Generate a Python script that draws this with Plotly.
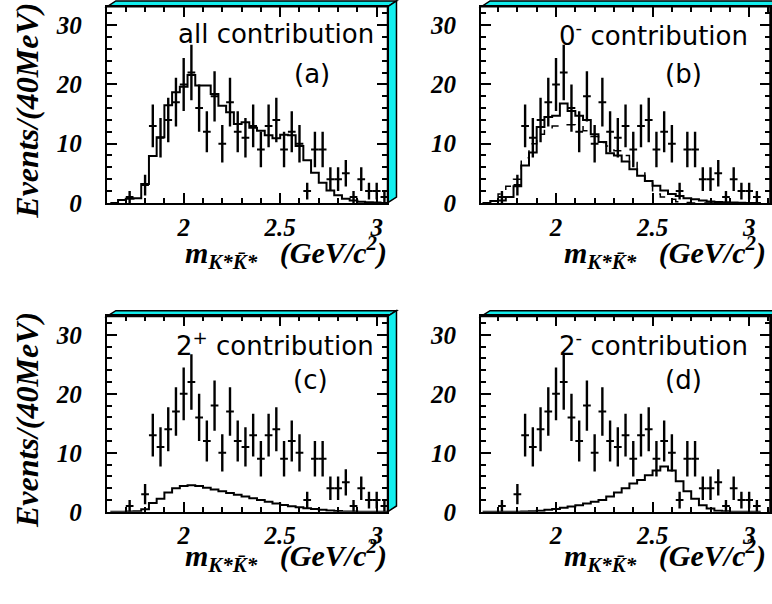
import numpy as np
import plotly.graph_objects as go

W, H = 772, 604

# ---------------- data ----------------
# data points (bin centres in GeV/c^2, 40 MeV bins) and event counts
centers = [1.68, 1.72, 1.76, 1.80, 1.84, 1.88, 1.92, 1.96, 2.00, 2.04, 2.08, 2.12,
           2.16, 2.20, 2.24, 2.28, 2.32, 2.36, 2.40, 2.44, 2.48, 2.52, 2.56, 2.60,
           2.64, 2.68, 2.72, 2.76, 2.80, 2.84, 2.88, 2.92, 2.96, 3.00, 3.04]
counts = [0, 1, 0, 3, 13, 11, 14, 17, 20, 22, 16, 12,
          18, 10, 17, 12, 11, 13, 9, 13, 14, 9, 12, 10,
          2, 9, 9, 4, 4, 5, 1, 4, 2, 2, 1]

# fit histograms (same bin centres, starting one bin earlier)
hist_centers = [1.64] + centers
all_contrib = [0, 0.5, 0.7, 0.8, 3.2, 7.9, 11.1, 16.5, 18.7, 19.6, 21.6, 19.8, 19.8,
               18.4, 16.4, 15.3, 13.3, 13.6, 12.7, 12.2, 11.4, 10.9, 11.5, 11.4, 9.6,
               7.2, 5.1, 3.4, 2.1, 1.3, 0.7, 0.4, 0.2, 0.1, 0.05, 0.0]
zero_minus = [0, 0.3, 0.4, 1.0, 2.8, 6.3, 8.5, 12.8, 14.5, 14.7, 16.8, 15.5, 14.7,
              14.0, 11.6, 10.3, 8.4, 8.0, 7.0, 5.7, 4.6, 3.7, 2.9, 2.1, 1.5,
              1.15, 0.8, 0.6, 0.4, 0.25, 0.15, 0.1, 0.05, 0.02, 0.0, 0.0]
zero_minus_alt = [0, 0.4, 1.5, 2.8, 4.0, 7.6, 10.0, 11.6, 12.5, 13.0, 13.2, 13.2, 13.0,
                  12.2, 11.2, 10.2, 9.6, 8.8, 8.0, 6.8, 5.2, 3.5, 1.5, 1.0, 0.6,
                  0.2, 0.05, 0, 0, 0, 0, 0, 0, 0, 0, 0]
two_plus = [0, 0.0, 0.05, 0.1, 0.45, 1.5, 2.2, 3.3, 4.0, 4.4, 4.5, 4.4, 4.1,
            3.8, 3.5, 3.2, 2.9, 2.6, 2.3, 2.0, 1.7, 1.4, 1.15, 0.95, 0.78,
            0.62, 0.47, 0.34, 0.23, 0.14, 0.08, 0.04, 0.02, 0, 0, 0]
two_minus = [0, 0, 0, 0, 0, 0.05, 0.1, 0.2, 0.35, 0.5, 0.7, 0.9, 1.1,
             1.4, 1.7, 2.0, 2.6, 3.3, 4.0, 4.8, 5.4, 6.2, 7.0, 7.7, 7.0,
             5.2, 3.5, 2.2, 1.1, 0.55, 0.2, 0.1, 0.03, 0, 0, 0]

x_ticks_major = 0.5
y_ticks_major = 10

# ---------------- figure ----------------
def fx(p):
    return p / W

def fy(p):
    return 1 - p / H

SERIF = dict(family="Liberation Serif", color="black", weight="bold", style="italic")
SANS = dict(family="DejaVu Sans", size=26, color="black")

panels = [
    dict(px=(107, 388), py=(7, 207.7), xr=[1.602, 3.056], lines=[(all_contrib, "solid")],
         label="all contribution", tag="(a)", lab_x=376, lab_y=35, tag_x=312, tag_y=76,
         xt_x=390, xt_y=258, yt=True, xstand=1),
    dict(px=(481.7, 771), py=(7, 207.7), xr=[1.612, 3.108],
         lines=[(zero_minus, "solid"), (zero_minus_alt, "dash")],
         label="0<sup>-</sup> contribution", tag="(b)", lab_x=751, lab_y=35, tag_x=684, tag_y=76,
         xt_x=769, xt_y=258, yt=False, xstand=1),
    dict(px=(107, 388), py=(324, 524), xr=[1.602, 3.056], lines=[(two_plus, "solid")],
         label="2<sup>+</sup> contribution", tag="(c)", lab_x=376, lab_y=352, tag_x=311, tag_y=389,
         xt_x=390, xt_y=569, yt=True, xstand=0),
    dict(px=(481.7, 771), py=(324, 524), xr=[1.612, 3.108], lines=[(two_minus, "solid")],
         label="2<sup>-</sup> contribution", tag="(d)", lab_x=751, lab_y=352, tag_x=684, tag_y=389,
         xt_x=769, xt_y=569, yt=False, xstand=0),
]

pts_x = [c for c, n in zip(centers, counts) if n > 0]
pts_y = [n for n in counts if n > 0]
pts_err = list(np.sqrt(pts_y))

fig = go.Figure()
layout = dict(width=W, height=H, margin=dict(l=0, r=0, t=0, b=0),
              paper_bgcolor="white", plot_bgcolor="white", showlegend=False)
shapes = []
annotations = []
DX, DY = 9, 6
CYAN = "#12EEEE"

for i, p in enumerate(panels, start=1):
    sx = "" if i == 1 else str(i)
    xa, ya = "x" + sx, "y" + sx
    x0, x1 = p["px"]
    y0, y1 = p["py"]  # top, bottom in pixels
    layout["xaxis" + sx] = dict(
        domain=[fx(x0), fx(x1)], range=p["xr"], anchor=ya,
        showline=True, linewidth=2, linecolor="black", mirror="ticks",
        ticks="inside", ticklen=10, tickwidth=1.5, tickcolor="black",
        tick0=0, dtick=x_ticks_major,
        minor=dict(ticks="inside", ticklen=5, tickwidth=1.5, tickcolor="black", tick0=0, dtick=0.1),
        showgrid=False, zeroline=False, ticklabelstandoff=p["xstand"],
        tickfont=dict(size=25, **SERIF))
    layout["yaxis" + sx] = dict(
        domain=[fy(y1), fy(y0)], range=[0, 33.1], anchor=xa,
        showline=True, linewidth=2, linecolor="black", mirror="ticks",
        ticks="inside", ticklen=10, tickwidth=1.5, tickcolor="black",
        tick0=0, dtick=y_ticks_major,
        minor=dict(ticks="inside", ticklen=5, tickwidth=1.5, tickcolor="black", tick0=0, dtick=2),
        showgrid=False, zeroline=False, ticklabelstandoff=18,
        tickfont=dict(size=25, **SERIF))

    # fit histograms
    for vals, dash in p["lines"]:
        edges = [c - 0.02 for c in hist_centers] + [hist_centers[-1] + 0.02]
        fig.add_trace(go.Scatter(
            x=edges, y=list(vals) + [vals[-1]], mode="lines", line_shape="hv",
            line=dict(color="black", width=2 if dash == "solid" else 1.5, dash=dash),
            xaxis=xa, yaxis=ya, hoverinfo="skip"))

    # data points
    fig.add_trace(go.Scatter(
        x=pts_x, y=pts_y, mode="markers", marker=dict(size=1, color="black"),
        error_y=dict(type="data", array=pts_err, color="black", thickness=2.4, width=0),
        error_x=dict(type="constant", value=0.02, color="black", thickness=2, width=0),
        xaxis=xa, yaxis=ya, cliponaxis=False))

    # cyan 3D frame
    top = (f"M {fx(x0)},{fy(y0)} L {fx(x0 + DX)},{fy(y0 - DY)} "
           f"L {fx(x1 + DX)},{fy(y0 - DY)} L {fx(x1)},{fy(y0)} Z")
    side = (f"M {fx(x1)},{fy(y0)} L {fx(x1 + DX)},{fy(y0 - DY)} "
            f"L {fx(x1 + DX)},{fy(y1 - DY)} L {fx(x1)},{fy(y1)} Z")
    for path in (top, side):
        shapes.append(dict(type="path", path=path, xref="paper", yref="paper",
                           fillcolor=CYAN, line=dict(color="black", width=1.5), layer="below"))

    # texts
    annotations.append(dict(text=p["label"], x=fx(p["lab_x"]), y=fy(p["lab_y"]),
                            xref="paper", yref="paper", xanchor="right", yanchor="middle",
                            showarrow=False, font=SANS))
    annotations.append(dict(text=p["tag"], x=fx(p["tag_x"]), y=fy(p["tag_y"]),
                            xref="paper", yref="paper", xanchor="center", yanchor="middle",
                            showarrow=False, font=SANS))
    annotations.append(dict(text="m<sub>K*K\u0304*</sub>\u00a0\u00a0\u00a0(GeV/c<sup>2</sup>)",
                            x=fx(p["xt_x"]), y=fy(p["xt_y"]),
                            xref="paper", yref="paper", xanchor="right", yanchor="middle",
                            showarrow=False, font=dict(size=30, **SERIF)))
    if p["yt"]:
        annotations.append(dict(text="Events/(40MeV)", x=fx(27), y=fy((y0 + y1) / 2 + 6),
                                xref="paper", yref="paper", xanchor="center", yanchor="middle",
                                textangle=-90, showarrow=False, font=dict(size=32, **SERIF)))

layout["shapes"] = shapes
layout["annotations"] = annotations
fig.update_layout(**layout)
fig.write_html("out.html")
